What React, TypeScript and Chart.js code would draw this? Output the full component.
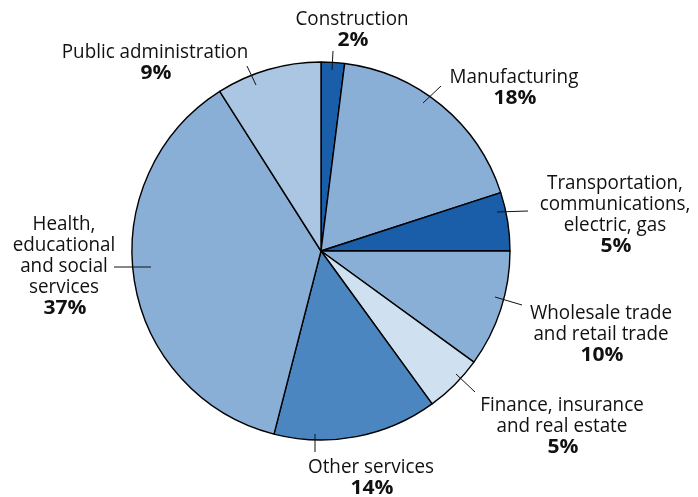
import React, { useEffect, useRef } from "react";
import { Chart, registerables } from "chart.js";

Chart.register(...registerables);

const categories = [
  "Construction",
  "Manufacturing",
  "Transportation, communications, electric, gas",
  "Wholesale trade and retail trade",
  "Finance, insurance and real estate",
  "Other services",
  "Health, educational and social services",
  "Public administration",
];
const values = [2, 18, 5, 10, 5, 14, 37, 9];
const labelLines = [
  ["Construction"],
  ["Manufacturing"],
  ["Transportation,", "communications,", "electric, gas"],
  ["Wholesale trade", "and retail trade"],
  ["Finance, insurance", "and real estate"],
  ["Other services"],
  ["Health,", "educational", "and social", "services"],
  ["Public administration"],
];
const colors = ["#1a5ea9", "#8aafd6", "#1a5ea9", "#8aafd6", "#cfe0f0", "#4c86c0", "#8aafd6", "#aac6e3"];

// Layout: positions relative to pie centre (text centre x, first baseline y, leader endpoints)
const labelLayout = [
  { x: 31, y: -226, lead: [12, -200, 11, -181] },
  { x: 193, y: -168, lead: [120, -165, 102, -148] },
  { x: 294, y: -62, lead: [207, -40, 176, -39] },
  { x: 280, y: 68, lead: [201, 54, 174, 46] },
  { x: 241, y: 160, lead: [154, 141, 135, 123] },
  { x: 50, y: 222, lead: [-6, 183, -6, 201] },
  { x: -257, y: -21, lead: [-207, 16, -170, 16] },
  { x: -166, y: -193, lead: [-74, -185, -65, -166] },
];

const labelPlugin = {
  id: "pieLabels",
  afterDraw(chart: any) {
    const ctx = chart.ctx as CanvasRenderingContext2D;
    const arc = chart.getDatasetMeta(0).data[0] as any;
    const cx = arc.x;
    const cy = arc.y;
    ctx.save();
    ctx.fillStyle = "#111";
    ctx.strokeStyle = "#111";
    ctx.lineWidth = 1;
    const regFont = "20px 'Open Sans'";
    const boldFont = "bold 20px 'Open Sans'";
    ctx.font = regFont;
    const regScale = 113 / ctx.measureText("Construction").width;
    ctx.font = boldFont;
    const boldScale = 43 / ctx.measureText("18%").width;
    const lh = 21;
    labelLayout.forEach((l, i) => {
      const [x1, y1, x2, y2] = l.lead;
      ctx.beginPath();
      ctx.moveTo(cx + x1, cy + y1);
      ctx.lineTo(cx + x2, cy + y2);
      ctx.stroke();
      const lines = labelLines[i];
      const tx = cx + l.x;
      let ty = cy + l.y;
      ctx.textAlign = "center";
      ctx.textBaseline = "alphabetic";
      lines.forEach((t) => {
        ctx.save();
        ctx.font = regFont;
        ctx.translate(tx, ty);
        ctx.scale(regScale, 1);
        ctx.fillText(t, 0, 0);
        ctx.restore();
        ty += lh;
      });
      ctx.save();
      ctx.font = boldFont;
      ctx.translate(tx + 1, ty);
      ctx.scale(boldScale, 1);
      ctx.fillText(values[i] + "%", 0, 0);
      ctx.restore();
    });
    ctx.restore();
  },
};

export default function App() {
  const ref = useRef<HTMLCanvasElement>(null);
  useEffect(() => {
    const chart = new Chart(ref.current!, {
      type: "pie",
      data: {
        labels: categories,
        datasets: [
          {
            data: values,
            backgroundColor: colors,
            borderColor: "#000",
            borderWidth: 1.4,
          },
        ],
      },
      options: {
        animation: false,
        responsive: false,
        radius: 189,
        layout: { padding: { left: 0, right: 56, top: 5, bottom: 0 } },
        plugins: { legend: { display: false }, tooltip: { enabled: false } },
      },
      plugins: [labelPlugin],
    });
    return () => chart.destroy();
  }, []);
  return (
    <div style={{ position: "fixed", left: 0, top: 0, width: 698, height: 497, background: "#fff" }}>
      <canvas ref={ref} width={698} height={497} />
    </div>
  );
}
